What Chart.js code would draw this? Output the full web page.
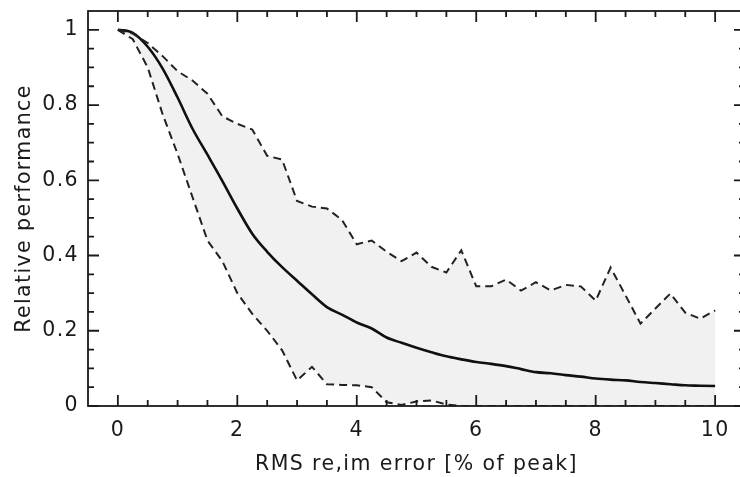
<!DOCTYPE html>
<html>
<head>
<meta charset="utf-8">
<script src="https://cdn.jsdelivr.net/npm/chart.js@4/dist/chart.umd.min.js"></script>
<style>
  html, body { margin: 0; padding: 0; background: #fff; overflow: hidden; }
  #wrap { width: 760px; height: 477px; }
</style>
</head>
<body>
<div id="wrap"><canvas id="perfChart" width="760" height="477"></canvas></div>
<script>
// RMS error levels (% of peak)
const errLevels = [0, 0.25, 0.5, 0.75, 1, 1.25, 1.5, 1.75, 2, 2.25, 2.5, 2.75, 3, 3.25, 3.5, 3.75,
  4, 4.25, 4.5, 4.75, 5, 5.25, 5.5, 5.75, 6, 6.25, 6.5, 6.75, 7, 7.25, 7.5, 7.75,
  8, 8.25, 8.5, 8.75, 9, 9.25, 9.5, 9.75, 10];

const meanPerf = [1.0, 0.992, 0.955, 0.897, 0.82, 0.737, 0.668, 0.598, 0.525, 0.458, 0.41, 0.369, 0.333, 0.297, 0.263, 0.243,
  0.222, 0.206, 0.182, 0.168, 0.155, 0.143, 0.132, 0.124, 0.117, 0.112, 0.106, 0.098, 0.09, 0.087, 0.082, 0.078,
  0.073, 0.07, 0.068, 0.064, 0.061, 0.058, 0.055, 0.054, 0.053];

const upperPerf = [1.0, 0.99, 0.965, 0.93, 0.89, 0.865, 0.83, 0.77, 0.75, 0.735, 0.665, 0.655, 0.545, 0.53, 0.525, 0.495,
  0.43, 0.44, 0.41, 0.385, 0.408, 0.37, 0.355, 0.414, 0.318, 0.318, 0.336, 0.307, 0.329, 0.307, 0.322, 0.318,
  0.28, 0.368, 0.294, 0.219, 0.259, 0.299, 0.248, 0.232, 0.254];

const lowerPerf = [1.0, 0.975, 0.90, 0.775, 0.67, 0.555, 0.44, 0.385, 0.30, 0.245, 0.20, 0.148, 0.068, 0.104, 0.058, 0.056,
  0.055, 0.05, 0.01, 0.003, 0.012, 0.015, 0.004, 0, 0, 0, 0, 0, 0, 0, 0, 0,
  0, 0, 0, 0, 0, 0, 0, 0, 0];

const xTickVals = [0, 2, 4, 6, 8, 10];
const yTickVals = [0, 0.2, 0.4, 0.6, 0.8, 1];

const pts = arr => arr.map((v, i) => ({ x: errLevels[i], y: v }));
const FONT = 'DejaVu Sans';

// wide, evenly spaced lettering like the old plot package
const spacedText = {
  id: 'spacedText',
  beforeLayout(chart) { chart.ctx.letterSpacing = '1.4px'; },
  beforeDraw(chart) { chart.ctx.letterSpacing = '1.4px'; }
};

// ticks drawn inside the frame on all four sides
const frameTicks = {
  id: 'frameTicks',
  afterDatasetsDraw(chart) {
    const { ctx, chartArea: a, scales: { x, y } } = chart;
    ctx.save();
    ctx.strokeStyle = '#1a1a1a';
    ctx.lineWidth = 1.8;
    ctx.beginPath();
    for (let v = 0; v <= 10.001; v += 0.5) {
      const p = x.getPixelForValue(v);
      const len = xTickVals.some(t => Math.abs(t - v) < 1e-6) ? 11 : 6;
      ctx.moveTo(p, a.bottom); ctx.lineTo(p, a.bottom - len);
      ctx.moveTo(p, a.top); ctx.lineTo(p, a.top + len);
    }
    for (let v = 0; v <= 1.0001; v += 0.05) {
      const p = y.getPixelForValue(v);
      const len = yTickVals.some(t => Math.abs(t - v) < 1e-6) ? 11 : 6;
      ctx.moveTo(a.left, p); ctx.lineTo(a.left + len, p);
      ctx.moveTo(a.right, p); ctx.lineTo(a.right - len, p);
    }
    ctx.stroke();
    ctx.strokeRect(a.left, a.top, a.width, a.height);
    ctx.restore();
  }
};

new Chart(document.getElementById('perfChart'), {
  type: 'line',
  data: {
    datasets: [
      {
        label: 'upper',
        data: pts(upperPerf),
        borderColor: '#222',
        borderWidth: 2,
        borderDash: [8, 5],
        backgroundColor: 'rgba(0,0,0,0.055)',
        fill: '+1',
        pointRadius: 0,
        tension: 0
      },
      {
        label: 'lower',
        data: pts(lowerPerf),
        borderColor: '#222',
        borderWidth: 2,
        borderDash: [8, 5],
        fill: false,
        pointRadius: 0,
        tension: 0
      },
      {
        label: 'mean',
        data: pts(meanPerf),
        borderColor: '#111',
        borderWidth: 2.6,
        fill: false,
        pointRadius: 0,
        cubicInterpolationMode: 'monotone'
      }
    ]
  },
  options: {
    responsive: false,
    animation: false,
    layout: { padding: { top: 11, right: 15, left: 0, bottom: 0 } },
    plugins: { legend: { display: false }, tooltip: { enabled: false } },
    scales: {
      x: {
        type: 'linear',
        min: -0.5, max: 10.5,
        afterBuildTicks: s => { s.ticks = xTickVals.map(v => ({ value: v })); },
        afterFit: s => { s.height = 71; s.paddingLeft = 0; s.paddingRight = 0; },
        grid: { display: false, drawTicks: false },
        border: { display: false },
        ticks: {
          padding: 12,
          color: '#1a1a1a',
          font: { family: FONT, size: 20.5 },
          maxRotation: 0
        },
        title: {
          display: true,
          text: 'RMS re,im error [% of peak]',
          color: '#1a1a1a',
          font: { family: FONT, size: 20.5 },
          padding: { top: 0, bottom: 0 }
        }
      },
      y: {
        min: 0, max: 1.05,
        afterBuildTicks: s => { s.ticks = yTickVals.map(v => ({ value: v })); },
        afterFit: s => { s.width = 88; s.paddingTop = 0; s.paddingBottom = 0; },
        grid: { display: false, drawTicks: false },
        border: { display: false },
        ticks: {
          padding: 9,
          color: '#1a1a1a',
          font: { family: FONT, size: 20.5 },
          callback: v => String(v)
        },
        title: {
          display: true,
          text: 'Relative performance',
          color: '#1a1a1a',
          font: { family: FONT, size: 20.5 },
          padding: { top: 12, bottom: 0 }
        }
      }
    }
  },
  plugins: [spacedText, frameTicks]
});
</script>
</body>
</html>
